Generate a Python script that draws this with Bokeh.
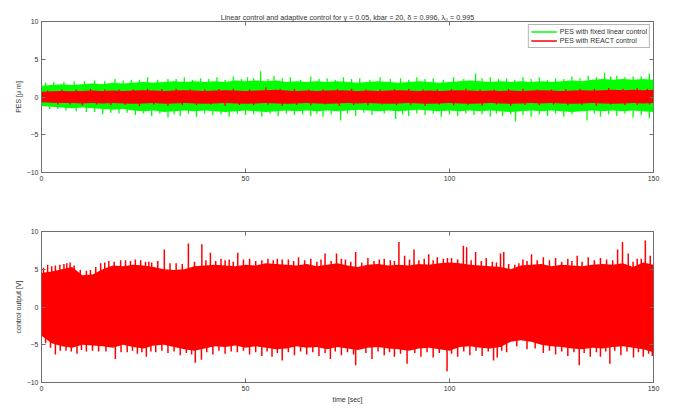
from bokeh.plotting import figure
from bokeh.layouts import column
from bokeh.models import Range1d, FixedTicker, LinearAxis, Legend, LegendItem, ColumnDataSource
from bokeh.embed import file_html
from bokeh.resources import INLINE

# ---------------- data ----------------
time_grid = [0, 2.5, 5, 7.5, 10, 12.5, 15, 17.5, 20, 22.5, 25, 27.5, 30, 32.5, 35, 37.5,
             40, 42.5, 45, 47.5, 50, 52.5, 55, 57.5, 60, 62.5, 65, 67.5, 70, 72.5, 75, 77.5,
             80, 82.5, 85, 87.5, 90, 92.5, 95, 97.5, 100, 102.5, 105, 107.5, 110, 112.5, 115,
             117.5, 120, 122.5, 125, 127.5, 130, 132.5, 135, 137.5, 140, 142.5, 145, 147.5, 150]

# PES with fixed linear control (green) envelope
pes_linear_upper = [1.5, 1.6, 1.7, 1.6, 1.7, 1.8, 1.7, 1.9, 1.8, 1.9, 2.0, 1.9, 2.0, 2.1, 2.0, 2.1,
                    2.0, 2.1, 2.0, 2.2, 2.1, 2.2, 2.1, 2.2, 2.0, 2.1, 2.0, 2.1, 2.0, 2.1, 2.0, 1.9,
                    2.0, 2.1, 2.0, 1.9, 2.0, 2.1, 2.0, 1.9, 2.0, 2.1, 2.2, 2.1, 2.0, 2.1, 2.0,
                    2.1, 2.0, 2.1, 2.0, 2.1, 2.2, 2.1, 2.3, 2.4, 2.3, 2.4, 2.3, 2.4, 2.3]
pes_linear_lower = [-1.2, -1.3, -1.4, -1.5, -1.4, -1.5, -1.6, -1.7, -1.6, -1.8, -1.9, -1.8, -2.0, -1.9, -1.8, -1.9,
                    -1.8, -1.9, -2.0, -1.9, -1.8, -1.9, -2.0, -1.9, -1.8, -1.9, -1.8, -1.9, -1.8, -1.9, -1.8, -1.7,
                    -1.8, -1.9, -1.8, -1.9, -1.8, -1.7, -1.8, -1.9, -1.8, -1.9, -1.8, -1.9, -1.8, -1.9, -2.0,
                    -1.9, -1.8, -1.9, -1.8, -1.9, -2.0, -1.9, -1.8, -1.9, -1.8, -1.9, -1.8, -1.9, -2.0]
pes_linear_spike_t = [3, 8, 13, 18, 22, 26, 31, 35, 39, 43, 47, 50.5, 53.7, 57, 61, 66, 70, 74, 78, 83,
                      88, 92, 96, 101, 106.4, 110, 114, 118, 122, 126, 130, 134, 138, 141, 145, 149,
                      1, 5.5, 10.5, 15.5, 20, 24, 28.5, 33, 37, 41, 45, 49, 52, 55.5, 59, 63.5, 68, 72, 76,
                      80.5, 85.5, 90, 94, 98.5, 103.5, 108, 112, 116, 120, 124, 128, 132, 136, 139.5, 143, 147,
                      2, 6, 11, 15, 19, 23, 27, 31, 34, 38, 42, 46, 50, 54, 58, 62, 66, 69, 73.3, 77,
                      81, 86.8, 90, 94, 98, 102, 106, 110, 113, 116.2, 120, 124, 128, 133.7, 137, 141, 145, 149,
                      4, 8.5, 13, 17, 21, 25, 29, 32.5, 36, 40, 44, 48, 52, 56, 60, 64, 67.5, 71, 75, 79,
                      84, 88.5, 92, 96, 100, 104, 108, 111.5, 115, 118, 122, 126, 130, 135.5, 139, 143, 147]
pes_linear_spike_v = [2.0, 2.1, 2.2, 2.4, 2.3, 2.6, 2.4, 2.6, 2.5, 2.6, 2.7, 2.6, 3.4, 2.8, 2.6, 2.7, 2.5, 2.6, 2.5, 2.6,
                      2.5, 2.6, 2.5, 2.6, 3.1, 2.6, 2.5, 2.6, 2.6, 2.5, 2.7, 2.8, 3.2, 2.8, 2.7, 3.1,
                      1.9, 2.0, 2.1, 2.1, 2.2, 2.3, 2.3, 2.4, 2.3, 2.4, 2.3, 2.4, 2.5, 2.4, 2.5, 2.3, 2.4, 2.3, 2.4,
                      2.3, 2.4, 2.3, 2.4, 2.3, 2.4, 2.5, 2.4, 2.3, 2.4, 2.3, 2.4, 2.5, 2.6, 2.7, 2.6, 2.7,
                      -1.6, -1.8, -2.0, -2.3, -2.2, -2.4, -2.5, -2.7, -2.5, -2.6, -2.4, -2.6, -2.4, -2.6, -2.5, -2.4, -2.5, -2.6, -3.1, -2.5,
                      -2.4, -2.9, -2.5, -2.4, -2.6, -2.5, -2.4, -2.6, -2.5, -3.2, -2.6, -2.5, -2.6, -3.1, -2.6, -2.5, -2.7, -2.8,
                      -1.6, -1.9, -2.0, -2.1, -2.1, -2.2, -2.2, -2.3, -2.2, -2.2, -2.3, -2.2, -2.3, -2.2, -2.2, -2.3, -2.2, -2.3, -2.2, -2.1,
                      -2.2, -2.3, -2.2, -2.2, -2.3, -2.2, -2.3, -2.2, -2.3, -2.4, -2.3, -2.2, -2.3, -2.2, -2.3, -2.2, -2.4]

# PES with REACT control (red) envelope
pes_react_upper = [0.7, 0.75, 0.8, 0.75, 0.8, 0.85, 0.8, 0.85, 0.8, 0.85, 0.9, 0.85, 0.8, 0.85, 0.9, 0.85,
                   0.8, 0.85, 0.9, 0.85, 0.8, 0.85, 0.9, 0.95, 0.85, 0.8, 0.85, 0.8, 0.85, 0.9, 0.85, 0.8,
                   0.85, 0.8, 0.85, 0.9, 0.85, 0.8, 0.85, 0.8, 0.85, 0.9, 0.85, 0.8, 0.85, 0.8, 0.85,
                   0.8, 0.85, 0.9, 0.85, 0.8, 0.85, 0.9, 0.85, 0.9, 0.95, 0.9, 0.95, 0.9, 0.95]
pes_react_lower = [-0.7, -0.75, -0.8, -0.8, -0.85, -0.8, -0.85, -0.8, -0.85, -0.9, -0.85, -0.8, -0.9, -0.85, -0.8, -0.85,
                   -0.9, -0.85, -0.8, -0.85, -0.9, -0.85, -0.8, -0.85, -0.9, -0.85, -0.8, -0.85, -0.9, -0.85, -0.8, -0.85,
                   -0.8, -0.85, -0.9, -0.85, -0.8, -0.85, -0.9, -0.85, -0.8, -0.85, -0.9, -0.85, -0.8, -0.85, -0.9,
                   -0.85, -0.8, -0.85, -0.8, -0.85, -0.9, -0.85, -0.8, -0.85, -0.9, -0.85, -0.8, -0.85, -0.8]
pes_react_spike_t = [5, 12, 19, 26, 33, 40, 47, 55, 62, 69, 76, 83, 90, 97, 104, 111, 118, 125, 132, 139, 146,
                     1.5, 8.5, 15.5, 22.5, 29.5, 36.5, 43.5, 51, 58.5, 65.5, 72.5, 79.5, 86.5, 93.5, 100.5, 107.5,
                     114.5, 121.5, 128.5, 135.5, 142.5, 148.5,
                     4, 10, 17, 24, 31, 38, 45, 52, 59, 66, 73, 80, 87, 94, 101, 108, 115, 122, 129, 136, 143, 149,
                     7, 13.5, 20.5, 27.5, 34.5, 41.5, 48.5, 55.5, 62.5, 69.5, 76.5, 83.5, 90.5, 97.5, 104.5,
                     111.5, 118.5, 125.5, 132.5, 139.5, 146]
pes_react_spike_v = [1.0, 1.1, 1.0, 1.1, 1.1, 1.0, 1.1, 1.3, 1.1, 1.0, 1.1, 1.0, 1.1, 1.0, 1.1, 1.0, 1.1, 1.0, 1.1, 1.2, 1.2,
                     0.9, 1.0, 1.0, 1.0, 1.05, 1.0, 1.05, 1.0, 1.1, 1.0, 1.05, 1.0, 1.05, 1.0, 1.05, 1.0,
                     1.05, 1.0, 1.05, 1.1, 1.1, 1.1,
                     -1.0, -1.1, -1.1, -1.2, -1.2, -1.1, -1.2, -1.1, -1.2, -1.1, -1.2, -1.1, -1.1, -1.2, -1.1, -1.2, -1.2, -1.1, -1.1, -1.2, -1.1, -1.0,
                     -1.0, -1.0, -1.05, -1.0, -1.05, -1.0, -1.05, -1.0, -1.05, -1.0, -1.05, -1.0, -1.05, -1.0, -1.05,
                     -1.0, -1.05, -1.0, -1.05, -1.0, -1.05]

# control output envelope
ctrl_upper = [4.5, 4.7, 5.0, 5.3, 4.2, 4.3, 5.0, 5.5, 5.4, 5.6, 5.5, 5.3, 5.0, 4.9, 5.0, 5.4,
              5.5, 5.6, 5.5, 5.4, 5.6, 5.5, 5.8, 5.7, 5.6, 5.5, 5.7, 5.4, 5.6, 5.8, 5.5, 5.3,
              5.6, 5.7, 5.5, 5.6, 5.5, 5.7, 5.6, 5.8, 5.9, 5.8, 5.6, 5.5, 5.4, 5.3, 5.0,
              5.5, 5.6, 5.7, 5.4, 5.6, 5.5, 5.4, 5.6, 5.7, 5.6, 5.8, 5.3, 5.9, 5.6]
ctrl_lower = [-3.8, -4.8, -5.2, -5.4, -5.0, -5.1, -5.2, -5.4, -5.0, -5.3, -5.5, -5.1, -5.0, -5.3, -5.6, -5.8,
              -5.5, -5.2, -5.3, -5.1, -5.4, -5.2, -5.4, -5.6, -5.5, -5.2, -5.4, -5.3, -5.6, -5.3, -5.5, -5.7,
              -5.4, -5.3, -5.5, -5.6, -5.8, -5.5, -5.4, -5.6, -5.8, -5.3, -5.2, -5.4, -5.5, -5.3, -4.6,
              -4.4, -4.6, -5.0, -5.2, -5.3, -5.5, -5.6, -5.4, -5.5, -5.3, -5.2, -5.4, -5.6, -6.0]
ctrl_spike_t = [1.5, 3.4, 5.5, 7.0, 12, 14.5, 16.5, 19.4, 20.6, 23, 25.5, 27, 30.1, 33, 36, 39.3, 41.4, 44, 46, 48.1,
                51, 54, 57.8, 60.5, 63, 66, 69.5, 72.3, 74.5, 77, 80, 84, 87.6, 89, 91.3, 94.9, 97, 100.5, 103.4,
                104.2, 106.4, 109, 112.5, 113.3, 118, 120.1, 123, 126, 129, 131.3, 134, 137, 141.2, 142.4, 143.8,
                146, 148, 149.2,
                0.5, 2.5, 4.5, 6.2, 8.0, 9.5, 11, 13.3, 15.5, 17.8, 21.8, 24.3, 26.3, 28.5, 31.5, 34.5, 37.5,
                40.3, 42.7, 45, 47, 49.5, 52.5, 55.5, 56.8, 59, 61.8, 64.5, 67.5, 68.5, 71, 73.5, 75.8, 78.5,
                81.5, 82.8, 85.5, 86.5, 90.2, 92.5, 93.8, 96, 98.5, 99.5, 102, 105.3, 107.8, 110.5, 111.5,
                114.5, 116, 117, 119, 121.5, 124.5, 127.5, 130, 132.5, 135.5, 138.5, 140, 145, 147,
                1.0, 3.4, 6, 8.7, 11, 14, 18.1, 21, 23.5, 25.7, 28, 31, 34, 37.7, 39.2, 42, 45, 48, 51, 54, 56.5,
                59, 62, 65, 68, 70.8, 73.5, 76.5, 77, 81, 84, 86.5, 89.6, 93, 96, 99.4, 102, 105, 108, 110.8,
                111.7, 114, 119, 123, 126, 129, 131.8, 134.5, 137, 139.3, 142, 145.1, 147.5, 149.7,
                2.2, 4.6, 7.3, 9.8, 12.5, 15.8, 19.5, 22.3, 24.6, 26.8, 29.5, 32.5, 35.5, 36.8, 40.5, 43.5,
                46.5, 49.5, 52.5, 55.3, 57.8, 60.5, 63.5, 66.5, 69.5, 72, 75, 79.5, 82.5, 85.3, 88, 91.5,
                94.5, 97.5, 100.5, 103.5, 106.5, 109.5, 112.8, 116.5, 121, 124.5, 127.5, 130.5, 133, 136,
                138.3, 140.5, 143.5, 146.3, 148.8]
ctrl_spike_v = [5.6, 5.5, 5.7, 5.9, 4.9, 5.8, 6.1, 6.2, 6.2, 6.3, 6.0, 5.9, 7.6, 5.8, 8.4, 8.3, 7.2, 6.4, 6.3, 7.2,
                6.4, 6.2, 6.4, 6.3, 6.6, 6.4, 7.1, 7.1, 6.3, 7.3, 6.5, 6.4, 8.6, 6.8, 7.6, 7.0, 6.6, 6.5, 8.1,
                7.9, 7.3, 6.5, 7.1, 7.3, 6.3, 7.0, 6.6, 6.5, 6.4, 6.8, 6.6, 6.5, 7.6, 8.6, 7.1,
                6.4, 8.8, 6.8,
                5.2, 5.4, 5.6, 5.8, 5.5, 4.9, 4.8, 5.3, 5.9, 6.0, 6.1, 6.2, 6.0, 6.1, 5.8, 5.7, 6.0,
                6.2, 6.1, 6.2, 6.0, 6.3, 6.1, 6.4, 6.2, 6.3, 6.1, 6.2, 6.0, 6.3, 6.1, 6.4, 6.0, 5.9,
                6.1, 6.3, 6.2, 6.1, 6.3, 6.2, 6.4, 6.2, 6.4, 6.5, 6.3, 6.2, 6.1, 6.0, 5.9,
                5.7, 5.6, 5.8, 6.1, 6.2, 6.2, 6.0, 6.1, 6.0, 6.2, 6.3, 6.2, 6.0, 6.4,
                -4.8, -6.3, -5.8, -6.2, -5.9, -5.9, -6.9, -6.0, -6.2, -6.6, -6.0, -6.1, -6.4, -7.4, -7.0, -6.3, -6.2, -6.0, -6.3, -6.5, -6.6,
                -7.1, -6.4, -6.3, -6.5, -6.9, -6.4, -6.3, -7.7, -6.9, -6.4, -6.6, -7.5, -6.6, -6.7, -8.5, -6.6, -6.4, -6.5, -7.1,
                -6.7, -6.0, -5.6, -6.1, -6.3, -6.5, -7.7, -6.6, -6.6, -7.5, -6.4, -6.7, -6.6, -6.5,
                -5.4, -5.8, -5.9, -5.7, -5.8, -5.9, -6.0, -5.8, -6.0, -5.9, -5.8, -5.9, -6.1, -6.3, -6.0, -5.8,
                -5.9, -5.8, -6.0, -5.9, -6.1, -6.0, -5.9, -6.0, -6.1, -5.9, -6.0, -6.1, -5.9, -6.0, -6.2, -6.1,
                -6.0, -6.1, -6.2, -5.9, -5.8, -5.9, -5.8, -5.2, -5.5, -5.8, -5.9, -6.0, -6.1, -6.0,
                -5.9, -5.8, -5.9, -6.0, -6.2]

x_ticks = [0, 50, 100, 150]
y_ticks = [-10, -5, 0, 5, 10]

title_text = "Linear control and adaptive control for \u03b3 = 0.05, kbar = 20, \u03b4 = 0.996, \u03bb\u2080 = 0.995"
legend_labels = ["PES with fixed linear control", "PES with REACT control"]

GREEN = "#00ff00"
RED = "#ff0000"
FONT = "Liberation Sans"
FRAME = "#6e6e6e"
TXT = "#333333"


def style(p, ylabel, xlabel=None):
    p.xgrid.visible = False
    p.ygrid.visible = False
    p.outline_line_color = FRAME
    p.outline_line_width = 1
    p.background_fill_color = "white"
    p.border_fill_color = "white"
    p.xaxis.ticker = FixedTicker(ticks=x_ticks)
    p.yaxis.ticker = FixedTicker(ticks=y_ticks)
    for ax in p.xaxis + p.yaxis:
        ax.axis_line_color = None
        ax.major_tick_in = 4
        ax.major_tick_out = 0
        ax.minor_tick_line_color = None
        ax.major_tick_line_color = FRAME
        ax.major_label_text_font = FONT
        ax.major_label_text_font_size = "7px"
        ax.major_label_text_color = TXT
        ax.axis_label_text_font = FONT
        ax.axis_label_text_font_size = "7px"
        ax.axis_label_text_font_style = "normal"
        ax.axis_label_text_color = TXT
    p.xaxis.major_label_standoff = 3
    p.yaxis.major_label_standoff = 3
    p.yaxis.axis_label = ylabel
    p.yaxis.axis_label_standoff = 2
    if xlabel:
        p.xaxis.axis_label = xlabel
        p.xaxis.axis_label_standoff = 2
    for loc, tk in (("right", y_ticks), ("above", x_ticks)):
        ax = LinearAxis(ticker=FixedTicker(ticks=tk), axis_line_color=None,
                        major_tick_in=4, major_tick_out=0, major_tick_line_color=FRAME,
                        minor_tick_line_color=None, major_label_text_font_size="7px",
                        major_label_text_color=None, major_label_standoff=0)
        p.add_layout(ax, loc)


# ---------------- top plot ----------------
p1 = figure(width=665, height=192, x_range=Range1d(0, 150), y_range=Range1d(-10, 10),
            output_backend="svg", toolbar_location=None,
            min_border_left=41, min_border_right=12, min_border_top=21, min_border_bottom=20)
p1.title.text = title_text
p1.title.text_font = FONT
p1.title.text_font_size = "7.2px"
p1.title.text_font_style = "normal"
p1.title.text_color = TXT
p1.title.align = "center"
p1.title.standoff = 0
p1.title.offset = 0

env1 = ColumnDataSource(dict(t=time_grid, gu=pes_linear_upper, gl=pes_linear_lower,
                             ru=pes_react_upper, rl=pes_react_lower))
sp_g = ColumnDataSource(dict(t=pes_linear_spike_t, v=pes_linear_spike_v, z=[0] * len(pes_linear_spike_t)))
sp_r = ColumnDataSource(dict(t=pes_react_spike_t, v=pes_react_spike_v, z=[0] * len(pes_react_spike_t)))

p1.varea(x="t", y1="gl", y2="gu", source=env1, fill_color=GREEN)
r_g = p1.segment(x0="t", y0="z", x1="t", y1="v", source=sp_g, line_color=GREEN, line_width=1.3)
p1.varea(x="t", y1="rl", y2="ru", source=env1, fill_color=RED)
r_r = p1.segment(x0="t", y0="z", x1="t", y1="v", source=sp_r, line_color=RED, line_width=1.3)

legend = Legend(items=[LegendItem(label=legend_labels[0], renderers=[r_g]),
                       LegendItem(label=legend_labels[1], renderers=[r_r])],
                location="top_right", margin=3, padding=2, spacing=0,
                glyph_width=26, glyph_height=9, label_height=9, label_standoff=3,
                label_text_font=FONT, label_text_font_size="7px", label_text_color=TXT,
                border_line_color=FRAME, border_line_width=1, background_fill_alpha=1)
p1.add_layout(legend)
style(p1, "PES [\u03bc m]")

# ---------------- bottom plot ----------------
p2 = figure(width=665, height=217, x_range=Range1d(0, 150), y_range=Range1d(-10, 10),
            output_backend="svg", toolbar_location=None,
            min_border_left=41, min_border_right=12, min_border_top=39, min_border_bottom=27)
env2 = ColumnDataSource(dict(t=time_grid, u=ctrl_upper, l=ctrl_lower))
sp_c = ColumnDataSource(dict(t=ctrl_spike_t, v=ctrl_spike_v, z=[0] * len(ctrl_spike_t)))
p2.varea(x="t", y1="l", y2="u", source=env2, fill_color=RED)
p2.segment(x0="t", y0="z", x1="t", y1="v", source=sp_c, line_color=RED, line_width=1.5)
style(p2, "control output [V]", "time [sec]")

layout = column(p1, p2, spacing=0)
open("out.html", "w").write(file_html(layout, INLINE))
